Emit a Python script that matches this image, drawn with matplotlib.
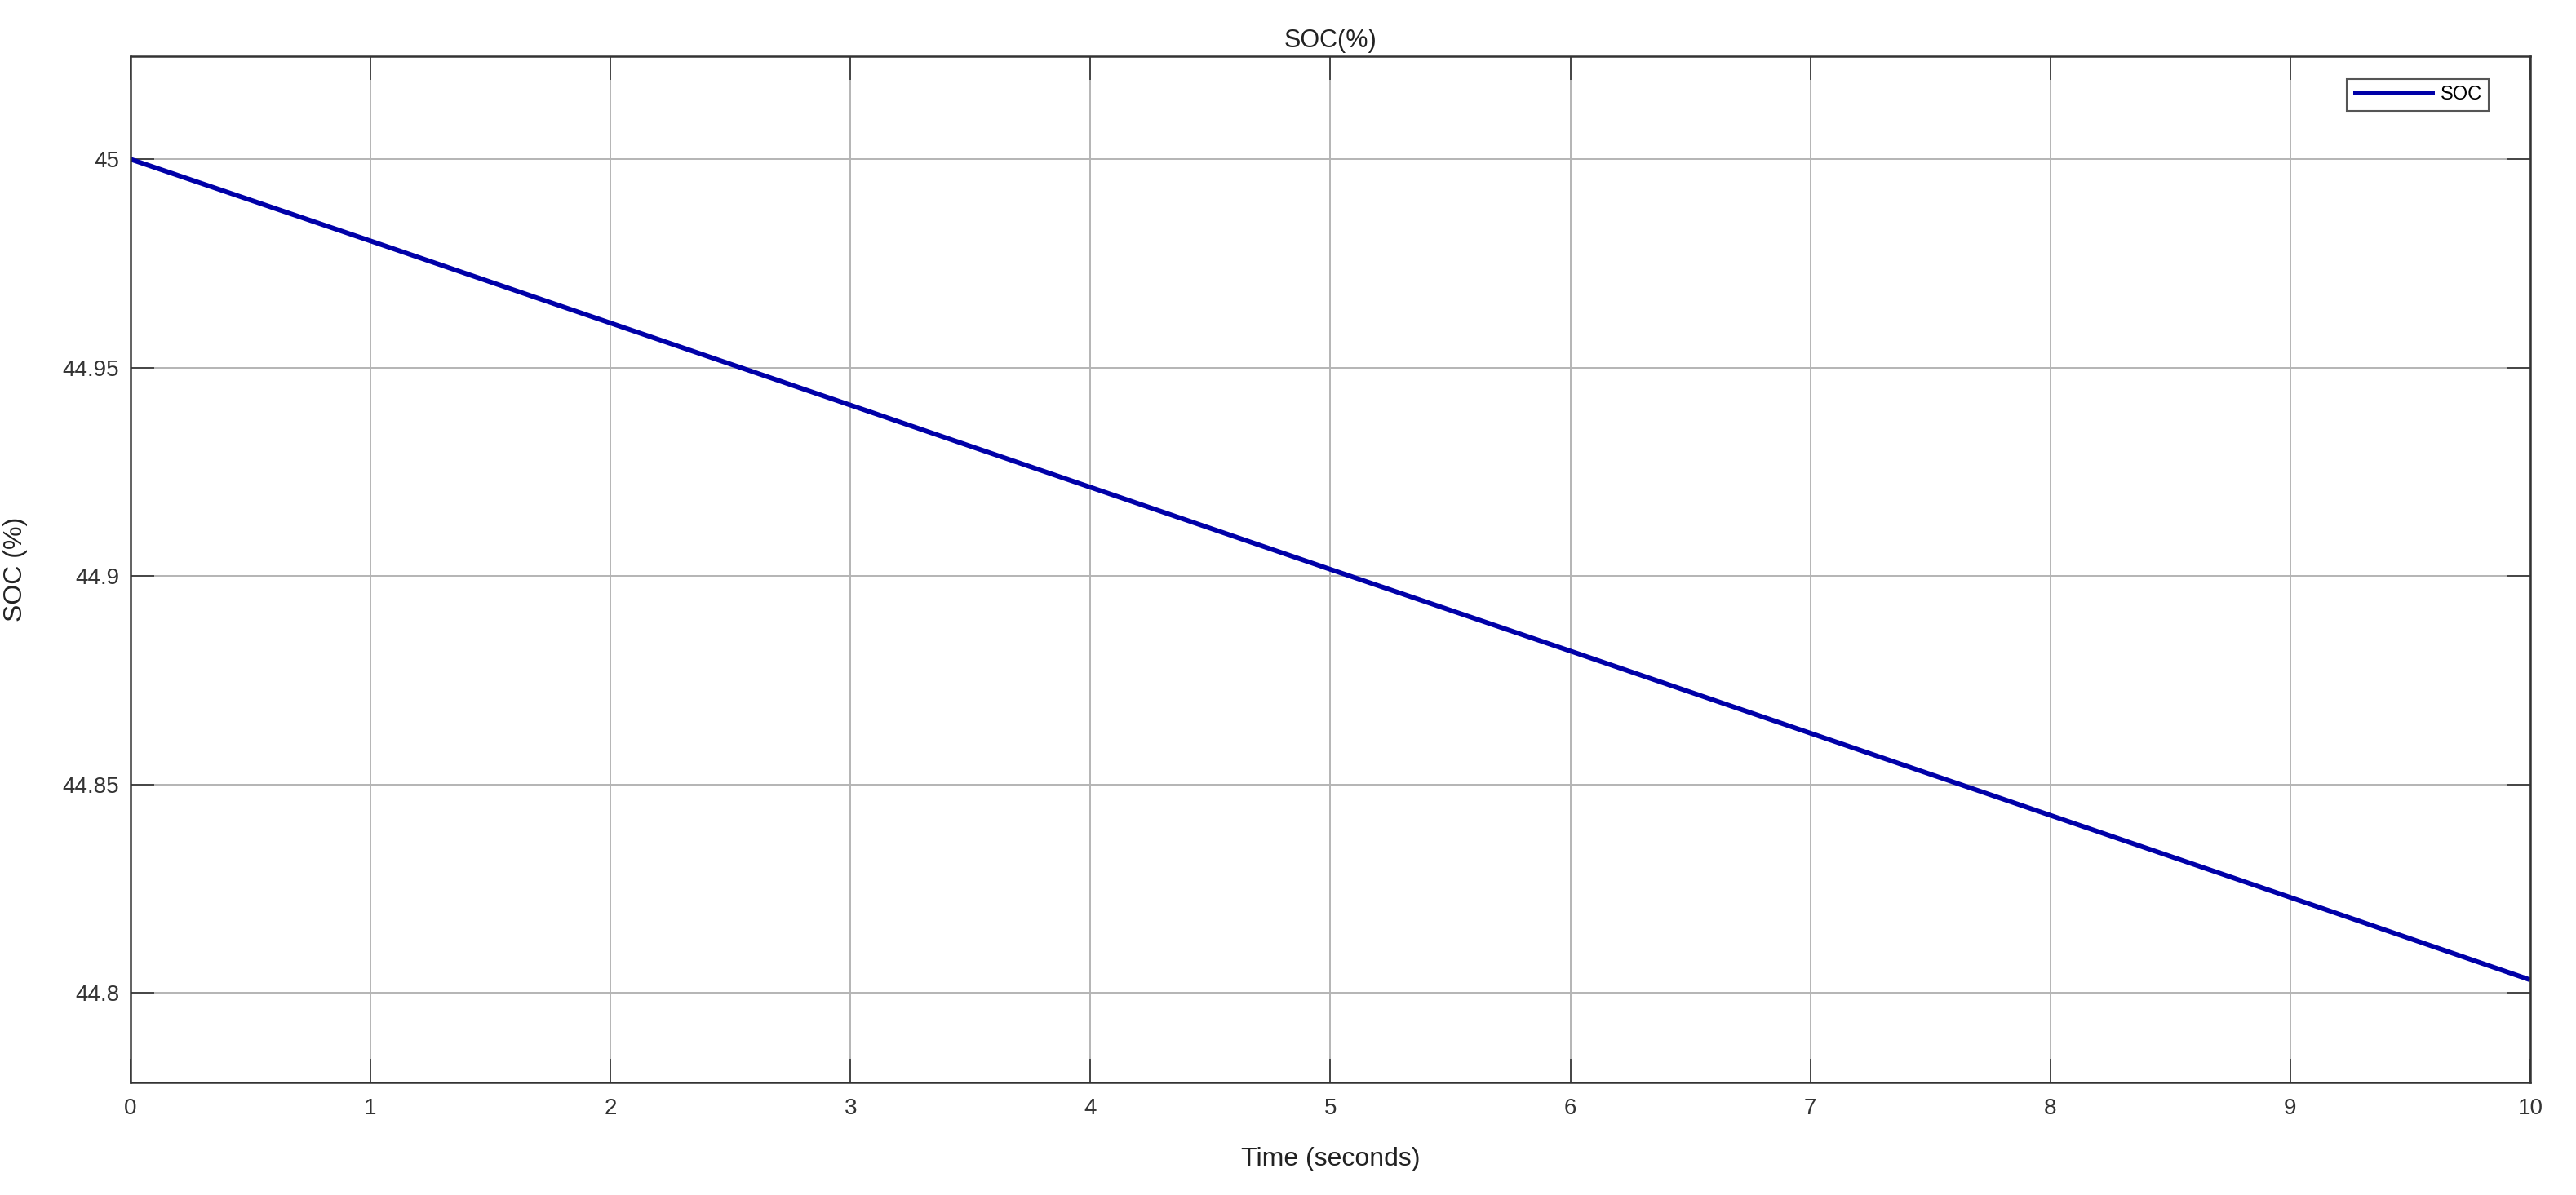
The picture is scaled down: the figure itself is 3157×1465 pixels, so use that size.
import matplotlib
matplotlib.use("Agg")
import matplotlib.pyplot as plt

plt.rcParams['font.family'] = ['Liberation Sans', 'DejaVu Sans']

time_s = [0, 1, 2, 3, 4, 5, 6, 7, 8, 9, 10]
soc = [45.000, 44.9804, 44.9607, 44.9410, 44.9213, 44.9016, 44.8820, 44.8623, 44.8426, 44.8229, 44.8031]
xticks = [0, 1, 2, 3, 4, 5, 6, 7, 8, 9, 10]
yticks = [44.8, 44.85, 44.9, 44.95, 45]
ytick_labels = ["44.8", "44.85", "44.9", "44.95", "45"]

fig = plt.figure(figsize=(31.57, 14.65), dpi=100)
ax = fig.add_axes([0.05068, 0.0942, 0.93158, 0.8587])

ax.plot(time_s, soc, color='#0000a8', linewidth=4.2, label='SOC', solid_capstyle='butt')

ax.set_xlim(0, 10)
ax.set_ylim(44.7785, 45.0247)
ax.set_xticks(xticks)
ax.set_xticklabels([str(t) for t in xticks])
ax.set_yticks(yticks)
ax.set_yticklabels(ytick_labels)

ax.grid(True, color='#b4b4b4', linewidth=1.4)
ax.set_axisbelow(True)

for sp in ax.spines.values():
    sp.set_color('#333333')
    sp.set_linewidth(1.8)

ax.tick_params(axis='both', direction='in', length=21, width=1.2, color='#333333',
               labelsize=20, labelcolor='#333333', top=True, right=True)
ax.tick_params(axis='x', pad=14)
ax.tick_params(axis='y', pad=10)

ax.set_title('SOC(%)', fontsize=22, color='#222222', pad=8)
ax.set_xlabel('Time (seconds)', fontsize=23, color='#222222')
ax.xaxis.set_label_coords(0.5, -0.063)
ax.set_ylabel('SOC (%)', fontsize=23, color='#222222')
ax.yaxis.set_label_coords(-0.043, 0.5)

leg = ax.legend(loc='upper right', bbox_to_anchor=(0.9827, 0.9777), borderaxespad=0,
                fontsize=17, frameon=True, fancybox=False, framealpha=1,
                edgecolor='#555555', handlelength=4.2, handletextpad=0.3,
                borderpad=0.35)
leg.get_frame().set_linewidth(1.5)

fig.savefig('out.png', dpi=100, facecolor='white')
